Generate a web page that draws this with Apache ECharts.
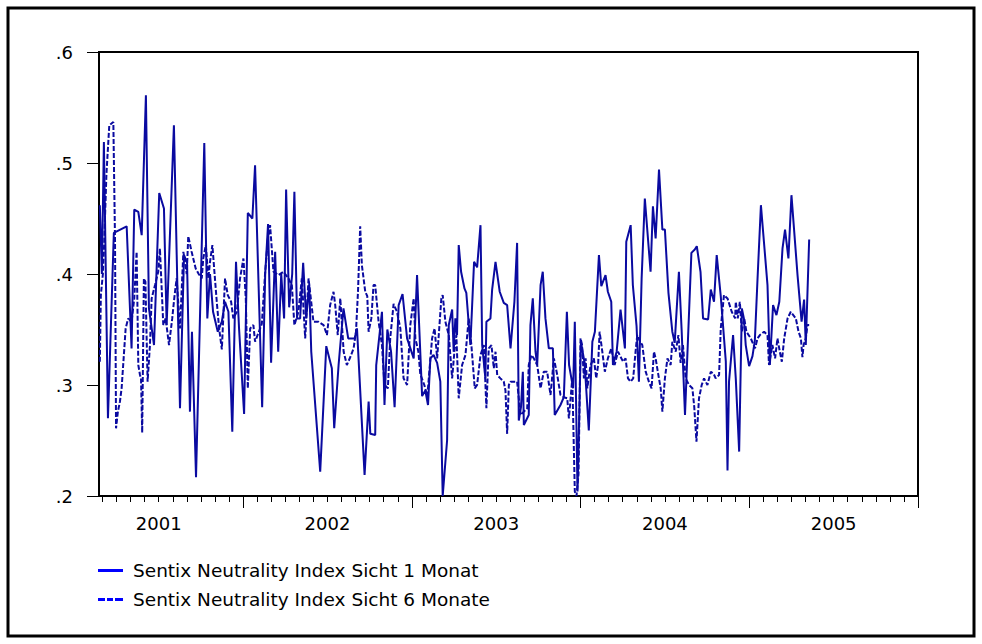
<!DOCTYPE html>
<html><head><meta charset="utf-8">
<script src="https://cdn.jsdelivr.net/npm/echarts@6/dist/echarts.min.js"></script>
<style>html,body{margin:0;padding:0;background:#fff}#c{width:982px;height:644px}</style>
</head><body><div id="c"></div>
<script>
// Series names (legend)
const seriesNames = ['Sentix Neutrality Index Sicht 1 Monat', 'Sentix Neutrality Index Sicht 6 Monate'];
// Year labels on the time axis
const yearLabels = ['2001', '2002', '2003', '2004', '2005'];
// Time (decimal year) and value pairs, weekly survey
const sicht1Monat = [
[2001.151,.462],[2001.163,.400],[2001.175,.519],[2001.199,.270],[2001.234,.437],[2001.310,.443],[2001.339,.333],[2001.355,.458],[2001.379,.456],[2001.399,.435],[2001.424,.561],[2001.442,.369],[2001.472,.336],[2001.503,.473],[2001.531,.459],[2001.547,.354],[2001.590,.534],[2001.626,.279],[2001.650,.417],[2001.668,.410],[2001.685,.276],[2001.697,.348],[2001.721,.217],[2001.770,.518],[2001.788,.360],[2001.804,.400],[2001.822,.366],[2001.850,.348],[2001.874,.357],[2001.893,.375],[2001.913,.366],[2001.936,.258],[2001.958,.411],[2001.976,.351],[2002.006,.274],[2002.028,.455],[2002.055,.450],[2002.071,.498],[2002.113,.280],[2002.131,.400],[2002.148,.445],[2002.166,.320],[2002.190,.420],[2002.208,.330],[2002.226,.400],[2002.243,.360],[2002.255,.476],[2002.273,.370],[2002.291,.400],[2002.304,.474],[2002.320,.360],[2002.338,.360],[2002.356,.410],[2002.374,.360],[2002.392,.390],[2002.404,.330],[2002.457,.222],[2002.493,.335],[2002.526,.315],[2002.540,.261],[2002.566,.318],[2002.595,.369],[2002.623,.342],[2002.661,.342],[2002.675,.351],[2002.720,.219],[2002.744,.285],[2002.754,.256],[2002.783,.255],[2002.789,.318],[2002.823,.366],[2002.838,.282],[2002.855,.350],[2002.877,.330],[2002.898,.280],[2002.922,.372],[2002.945,.382],[2002.972,.342],[2003.011,.324],[2003.031,.399],[2003.061,.290],[2003.080,.295],[2003.096,.282],[2003.110,.324],[2003.129,.327],[2003.150,.320],[2003.169,.303],[2003.183,.200],[2003.209,.250],[2003.219,.354],[2003.239,.368],[2003.248,.330],[2003.258,.360],[2003.268,.345],[2003.278,.426],[2003.292,.402],[2003.312,.387],[2003.323,.383],[2003.347,.336],[2003.357,.370],[2003.369,.411],[2003.387,.406],[2003.407,.444],[2003.417,.336],[2003.436,.306],[2003.442,.357],[2003.466,.360],[2003.476,.386],[2003.496,.411],[2003.521,.384],[2003.545,.374],[2003.565,.372],[2003.585,.333],[2003.608,.375],[2003.624,.428],[2003.634,.268],[2003.647,.280],[2003.658,.312],[2003.664,.264],[2003.693,.273],[2003.703,.354],[2003.717,.378],[2003.733,.330],[2003.743,.318],[2003.763,.390],[2003.776,.402],[2003.792,.360],[2003.812,.333],[2003.836,.333],[2003.847,.273],[2003.881,.282],[2003.901,.289],[2003.919,.366],[2003.932,.318],[2003.956,.297],[2003.966,.357],[2003.982,.204],[2004.002,.339],[2004.024,.320],[2004.049,.259],[2004.070,.339],[2004.085,.348],[2004.109,.417],[2004.123,.389],[2004.148,.399],[2004.162,.384],[2004.182,.375],[2004.192,.318],[2004.214,.330],[2004.237,.368],[2004.263,.333],[2004.271,.429],[2004.297,.444],[2004.310,.390],[2004.332,.353],[2004.346,.303],[2004.362,.396],[2004.381,.468],[2004.415,.402],[2004.429,.461],[2004.445,.432],[2004.465,.494],[2004.485,.440],[2004.500,.440],[2004.521,.383],[2004.544,.348],[2004.558,.338],[2004.583,.402],[2004.599,.350],[2004.619,.273],[2004.657,.419],[2004.677,.422],[2004.689,.425],[2004.711,.402],[2004.726,.360],[2004.756,.359],[2004.772,.386],[2004.791,.375],[2004.807,.417],[2004.831,.380],[2004.861,.321],[2004.871,.223],[2004.880,.303],[2004.904,.345],[2004.920,.306],[2004.940,.240],[2004.956,.369],[2004.968,.360],[2004.979,.336],[2004.999,.317],[2005.019,.326],[2005.033,.340],[2005.049,.396],[2005.069,.462],[2005.108,.390],[2005.122,.318],[2005.141,.372],[2005.161,.363],[2005.178,.375],[2005.197,.423],[2005.212,.440],[2005.232,.414],[2005.250,.471],[2005.286,.399],[2005.310,.357],[2005.325,.377],[2005.335,.336],[2005.355,.431]
];
const sicht6Monate = [
[2001.151,.321],[2001.157,.381],[2001.169,.400],[2001.175,.420],[2001.190,.490],[2001.207,.534],[2001.231,.537],[2001.241,.430],[2001.247,.261],[2001.258,.276],[2001.270,.285],[2001.280,.297],[2001.304,.351],[2001.319,.360],[2001.339,.357],[2001.355,.378],[2001.369,.420],[2001.379,.318],[2001.389,.309],[2001.395,.306],[2001.402,.257],[2001.412,.396],[2001.421,.393],[2001.434,.303],[2001.448,.336],[2001.458,.378],[2001.478,.390],[2001.497,.402],[2001.507,.423],[2001.527,.354],[2001.541,.360],[2001.561,.336],[2001.580,.360],[2001.592,.378],[2001.606,.396],[2001.626,.351],[2001.646,.420],[2001.666,.400],[2001.675,.434],[2001.695,.420],[2001.719,.405],[2001.737,.400],[2001.755,.396],[2001.764,.414],[2001.779,.426],[2001.794,.396],[2001.804,.411],[2001.818,.426],[2001.830,.402],[2001.844,.375],[2001.858,.351],[2001.874,.332],[2001.893,.396],[2001.909,.381],[2001.929,.375],[2001.942,.360],[2001.963,.366],[2001.982,.396],[2002.002,.414],[2002.016,.378],[2002.028,.297],[2002.042,.351],[2002.061,.354],[2002.071,.339],[2002.111,.355],[2002.131,.402],[2002.147,.432],[2002.160,.444],[2002.180,.402],[2002.210,.399],[2002.239,.402],[2002.269,.396],[2002.289,.390],[2002.304,.354],[2002.328,.366],[2002.348,.396],[2002.368,.342],[2002.388,.396],[2002.417,.357],[2002.447,.357],[2002.477,.354],[2002.497,.345],[2002.516,.372],[2002.536,.384],[2002.546,.372],[2002.561,.345],[2002.576,.378],[2002.596,.330],[2002.615,.318],[2002.635,.325],[2002.655,.333],[2002.669,.348],[2002.681,.384],[2002.694,.443],[2002.704,.408],[2002.724,.384],[2002.736,.380],[2002.744,.348],[2002.760,.360],[2002.773,.390],[2002.783,.390],[2002.803,.357],[2002.823,.336],[2002.838,.300],[2002.858,.297],[2002.872,.342],[2002.892,.373],[2002.912,.366],[2002.932,.351],[2002.951,.306],[2002.972,.300],[2002.991,.354],[2003.011,.378],[2003.021,.342],[2003.039,.330],[2003.050,.310],[2003.074,.300],[2003.092,.290],[2003.120,.342],[2003.135,.351],[2003.150,.324],[2003.175,.378],[2003.183,.381],[2003.199,.357],[2003.219,.345],[2003.239,.306],[2003.254,.333],[2003.264,.345],[2003.278,.288],[2003.298,.318],[2003.318,.327],[2003.337,.360],[2003.353,.336],[2003.373,.297],[2003.387,.300],[2003.407,.327],[2003.427,.336],[2003.442,.279],[2003.456,.333],[2003.472,.336],[2003.486,.315],[2003.496,.330],[2003.506,.309],[2003.525,.306],[2003.545,.303],[2003.555,.295],[2003.565,.256],[2003.575,.300],[2003.585,.303],[2003.605,.303],[2003.624,.303],[2003.644,.273],[2003.664,.276],[2003.684,.279],[2003.693,.318],[2003.709,.327],[2003.723,.324],[2003.743,.318],[2003.763,.297],[2003.782,.312],[2003.802,.312],[2003.822,.291],[2003.842,.324],[2003.862,.309],[2003.881,.291],[2003.901,.289],[2003.921,.288],[2003.931,.270],[2003.951,.306],[2003.966,.204],[2003.976,.200],[2003.988,.220],[2004.000,.342],[2004.009,.336],[2004.020,.306],[2004.030,.324],[2004.040,.297],[2004.059,.318],[2004.079,.324],[2004.093,.306],[2004.104,.318],[2004.113,.348],[2004.129,.330],[2004.144,.312],[2004.162,.324],[2004.182,.333],[2004.202,.318],[2004.222,.330],[2004.252,.321],[2004.267,.324],[2004.281,.306],[2004.297,.303],[2004.312,.306],[2004.326,.330],[2004.336,.345],[2004.350,.340],[2004.366,.336],[2004.386,.312],[2004.405,.303],[2004.421,.297],[2004.435,.330],[2004.445,.324],[2004.460,.310],[2004.475,.297],[2004.485,.276],[2004.500,.306],[2004.515,.324],[2004.534,.318],[2004.544,.339],[2004.564,.330],[2004.580,.345],[2004.593,.320],[2004.607,.336],[2004.623,.306],[2004.643,.300],[2004.663,.297],[2004.674,.280],[2004.687,.249],[2004.702,.288],[2004.718,.300],[2004.732,.306],[2004.752,.300],[2004.772,.312],[2004.789,.310],[2004.801,.306],[2004.821,.309],[2004.831,.351],[2004.850,.381],[2004.871,.378],[2004.896,.366],[2004.916,.360],[2004.920,.375],[2004.932,.360],[2004.944,.375],[2004.956,.348],[2004.970,.360],[2004.983,.348],[2005.009,.342],[2005.034,.333],[2005.049,.342],[2005.063,.345],[2005.088,.348],[2005.108,.345],[2005.117,.318],[2005.137,.336],[2005.153,.324],[2005.167,.342],[2005.181,.330],[2005.193,.321],[2005.207,.342],[2005.227,.360],[2005.246,.366],[2005.276,.360],[2005.292,.348],[2005.306,.342],[2005.315,.325],[2005.322,.336],[2005.335,.342],[2005.345,.354],[2005.355,.354]
];

const xMin = 2001.146, xMax = 2006;
const monthTicks = [];
for (let y = 2001; y < 2006; y++) for (let m = 0; m < 12; m++) { const v = y + m / 12; if (v > xMin) monthTicks.push(v); }
monthTicks.push(2006);
const yearTicks = [2002, 2003, 2004, 2005, 2006];
const labelPos = yearLabels.map(s => Number(s) + 0.5);

const FONT = 'DejaVu Sans';
const LINE = '#0a0aa0';
const LEG = '#0000ff';
const chart = echarts.init(document.getElementById('c'), null, { renderer: 'svg' });
const baseX = { type: 'value', min: xMin, max: xMax, position: 'bottom', gridIndex: 0, splitLine: { show: false } };
chart.setOption({
  animation: false,
  backgroundColor: '#fff',
  grid: { left: 99, right: 64, top: 52, bottom: 148, show: true, borderColor: '#000', borderWidth: 2, backgroundColor: '#fff' },
  xAxis: [
    Object.assign({}, baseX, {
      axisLine: { show: true, lineStyle: { color: '#000', width: 2 } },
      axisTick: { show: true, customValues: monthTicks, length: 6, lineStyle: { color: '#000', width: 1 } },
      axisLabel: { show: false }
    }),
    Object.assign({}, baseX, {
      axisLine: { show: false },
      axisTick: { show: true, customValues: yearTicks, length: 12, lineStyle: { color: '#000', width: 1 } },
      axisLabel: { show: false }
    }),
    Object.assign({}, baseX, {
      axisLine: { show: false },
      axisTick: { show: false },
      axisLabel: { show: true, customValues: labelPos, margin: 18, color: '#000', fontFamily: FONT, fontSize: 18,
        formatter: v => yearLabels[Math.round(v - 0.5) - 2001] }
    })
  ],
  yAxis: {
    type: 'value', min: 0.2, max: 0.6, interval: 0.1,
    axisLine: { show: true, lineStyle: { color: '#000', width: 2 } },
    axisTick: { show: true, length: 12, lineStyle: { color: '#000', width: 1 } },
    splitLine: { show: false },
    axisLabel: { margin: 26, color: '#000', fontFamily: FONT, fontSize: 18,
      formatter: v => v.toFixed(1).replace(/^0/, '') }
  },
  legend: {
    show: true, orient: 'vertical', left: 98, top: 561, padding: 0, itemWidth: 25, itemHeight: 3, itemGap: 10,
    textStyle: { color: '#000', fontFamily: FONT, fontSize: 18.5, padding: [0, 0, 0, 5] },
    data: [
      { name: seriesNames[0], icon: 'path://M0,0h25v3h-25z', itemStyle: { color: LEG } },
      { name: seriesNames[1], icon: 'path://M0,0h7v3h-7zM9,0h6v3h-6zM17,0h8v3h-8z', itemStyle: { color: LEG } }
    ]
  },
  graphic: [{ type: 'rect', shape: { x: 8, y: 8, width: 966, height: 628 }, style: { fill: null, stroke: '#000', lineWidth: 3 }, silent: true }],
  series: [
    { name: seriesNames[0], type: 'line', xAxisIndex: 0, data: sicht1Monat, symbol: 'none', showSymbol: false,
      lineStyle: { color: LINE, width: 2 }, itemStyle: { color: LINE } },
    { name: seriesNames[1], type: 'line', xAxisIndex: 0, data: sicht6Monate, symbol: 'none', showSymbol: false,
      lineStyle: { color: LINE, width: 2, type: [5, 2] }, itemStyle: { color: LINE } }
  ]
});
</script></body></html>
